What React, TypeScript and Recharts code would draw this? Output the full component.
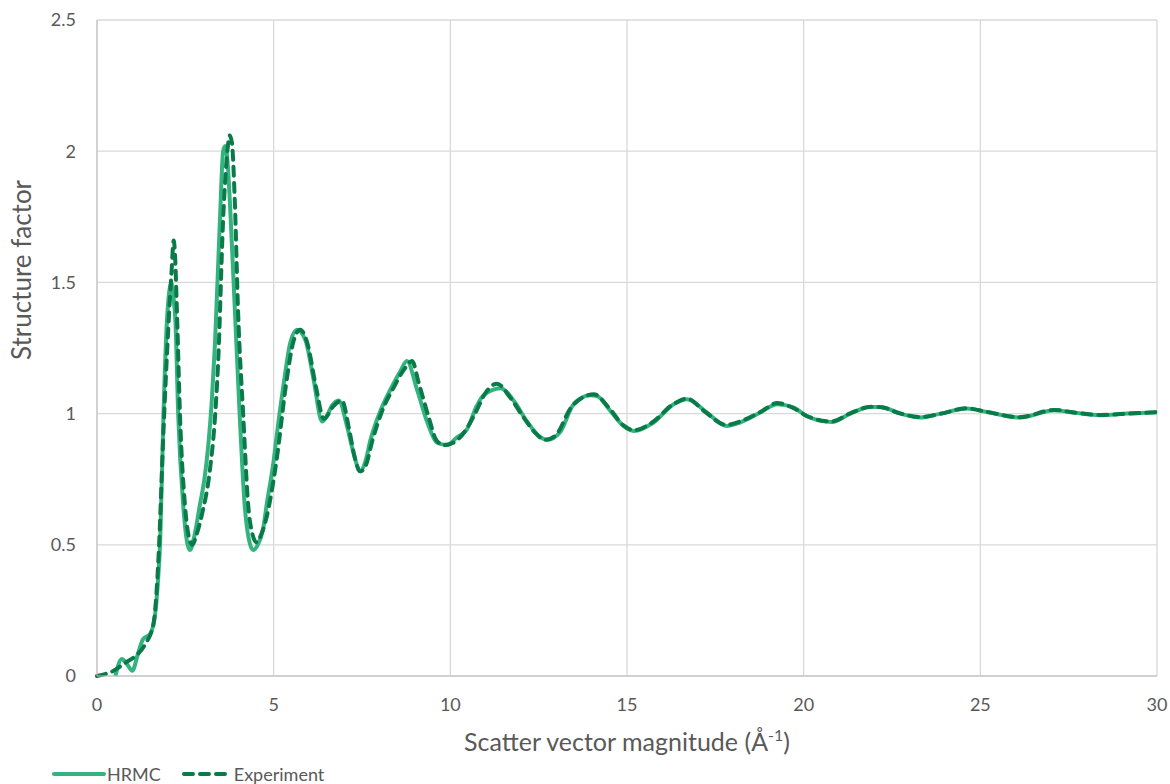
import { LineChart, Line, XAxis, YAxis, CartesianGrid } from 'recharts';

// [q, S(q)] pairs
const hrmcPoints: [number, number][] = [
  [0.52, 0.0], [0.7, 0.065], [0.85, 0.045], [1.0, 0.02], [1.15, 0.08], [1.3, 0.14],
  [1.5, 0.16], [1.64, 0.23], [1.72, 0.35], [1.79, 0.52], [1.88, 0.99], [1.97, 1.33],
  [2.05, 1.47], [2.1, 1.5], [2.16, 1.45], [2.22, 1.35], [2.3, 0.99], [2.44, 0.65],
  [2.55, 0.51], [2.63, 0.48], [2.75, 0.53], [2.91, 0.65], [3.05, 0.76], [3.15, 0.88],
  [3.25, 1.05], [3.34, 1.27], [3.48, 1.74], [3.57, 2.0], [3.63, 2.02], [3.7, 1.95],
  [3.76, 1.81], [3.9, 1.4], [4.04, 0.99], [4.18, 0.65], [4.3, 0.52], [4.42, 0.48],
  [4.55, 0.5], [4.7, 0.56], [4.81, 0.66], [5.0, 0.82], [5.09, 0.92], [5.28, 1.11],
  [5.47, 1.27], [5.66, 1.32], [5.9, 1.28], [6.13, 1.13], [6.37, 0.97], [6.5, 0.99],
  [6.65, 1.03], [6.84, 1.05], [7.08, 0.95], [7.26, 0.85], [7.45, 0.78], [7.6, 0.82],
  [7.74, 0.9], [8.02, 1.01], [8.3, 1.09], [8.58, 1.16], [8.77, 1.2], [9.06, 1.09],
  [9.34, 0.97], [9.62, 0.89], [9.91, 0.88], [10.19, 0.91], [10.47, 0.94], [10.75, 1.03],
  [10.94, 1.07], [11.42, 1.097], [11.79, 1.05], [12.17, 0.97], [12.55, 0.91], [12.74, 0.9],
  [13.11, 0.93], [13.49, 1.036], [13.96, 1.07], [14.15, 1.067], [14.53, 1.01], [14.9, 0.953],
  [15.19, 0.934], [15.75, 0.966], [16.32, 1.036], [16.7, 1.055], [17.26, 1.004], [17.83, 0.953],
  [18.2, 0.966], [18.77, 1.004], [19.25, 1.036], [19.72, 1.023], [20.1, 0.99], [20.8, 0.968],
  [21.32, 1.0], [21.89, 1.025], [22.17, 1.025], [22.74, 1.0], [23.3, 0.985], [23.87, 1.0],
  [24.62, 1.019], [25.19, 1.006], [26.13, 0.985], [27.08, 1.013], [27.64, 1.004], [28.4, 0.994],
  [29.15, 1.0], [30, 1.004],
];

const experimentPoints: [number, number][] = [
  [0, 0], [0.47, 0.02], [0.8, 0.05], [1.08, 0.075], [1.36, 0.12], [1.6, 0.2],
  [1.74, 0.45], [1.88, 0.93], [2.02, 1.33], [2.11, 1.54], [2.17, 1.66], [2.21, 1.6],
  [2.26, 1.4], [2.35, 0.99], [2.49, 0.65], [2.6, 0.53], [2.7, 0.5], [2.82, 0.54],
  [2.96, 0.61], [3.2, 0.79], [3.32, 0.95], [3.43, 1.2], [3.57, 1.74], [3.67, 1.97],
  [3.76, 2.06], [3.82, 2.03], [3.9, 1.81], [3.99, 1.4], [4.14, 0.99], [4.28, 0.65],
  [4.4, 0.54], [4.51, 0.51], [4.65, 0.54], [4.79, 0.6], [5.08, 0.82], [5.36, 1.12],
  [5.55, 1.27], [5.75, 1.32], [5.95, 1.27], [6.2, 1.1], [6.42, 0.98], [6.7, 1.03],
  [6.93, 1.05], [7.15, 0.93], [7.3, 0.83], [7.45, 0.78], [7.6, 0.8], [7.8, 0.9],
  [8.1, 1.02], [8.4, 1.1], [8.7, 1.17], [8.92, 1.2], [9.1, 1.12], [9.4, 0.98],
  [9.6, 0.9], [9.81, 0.88], [10.1, 0.89], [10.4, 0.93], [10.7, 1.0], [11.0, 1.08],
  [11.32, 1.114], [11.7, 1.06], [12.1, 0.98], [12.45, 0.92], [12.69, 0.9], [13.0, 0.92],
  [13.4, 1.02], [13.8, 1.065], [14.06, 1.074], [14.5, 1.02], [14.9, 0.955], [15.2, 0.937],
  [15.7, 0.965], [16.3, 1.035], [16.7, 1.057], [17.2, 1.008], [17.8, 0.957], [18.2, 0.97],
  [18.8, 1.008], [19.25, 1.04], [19.7, 1.022], [20.1, 0.99], [20.8, 0.97], [21.3, 1.0],
  [21.9, 1.026], [22.2, 1.024], [22.7, 1.002], [23.3, 0.987], [23.9, 1.0], [24.6, 1.02],
  [25.2, 1.006], [26.1, 0.986], [27.1, 1.014], [27.6, 1.005], [28.4, 0.995], [29.2, 1.0],
  [30, 1.006],
];

const xTicks = [0, 5, 10, 15, 20, 25, 30];
const yTicks = [0, 0.5, 1, 1.5, 2, 2.5];

const HRMC_COLOR = '#33b37f';
const EXP_COLOR = '#0a7a48';
const FONT = 'Lato, "Open Sans", sans-serif';
const TEXT = '#595959';

const toRows = (pts: [number, number][]) => pts.map(([q, s]) => ({ q, s }));

export default function App() {
  return (
    <div style={{ position: 'absolute', left: 0, top: 0, width: 1170, height: 784, background: '#fff', fontFamily: FONT }}>
      <LineChart width={1170} height={784} margin={{ top: 20, right: 13, left: 17, bottom: 78 }}>
        <CartesianGrid stroke="#d9d9d9" strokeWidth={1.3} />
        <XAxis
          type="number"
          dataKey="q"
          domain={[0, 30]}
          ticks={xTicks}
          allowDuplicatedCategory={false}
          height={30}
          stroke="#bfbfbf"
          tickLine={false}
          tick={{ fill: TEXT, fontSize: 18, fontFamily: FONT }}
          tickMargin={16}
          label={{
            content: () => (
              <text x={627} y={751} textAnchor="middle" fill={TEXT} fontSize={25} fontFamily={FONT}>
                Scatter vector magnitude (Å
                <tspan dy={-10} fontSize={16}>-1</tspan>
                <tspan dy={10}>)</tspan>
              </text>
            ),
          }}
        />
        <YAxis
          type="number"
          domain={[0, 2.5]}
          ticks={yTicks}
          width={80}
          stroke="#bfbfbf"
          tickLine={false}
          tick={{ fill: TEXT, fontSize: 18, fontFamily: FONT }}
          tickMargin={15}
          label={{
            content: () => (
              <text
                x={31}
                y={270}
                textAnchor="middle"
                transform="rotate(-90 31 270)"
                fill={TEXT}
                fontSize={26}
                fontFamily={FONT}
              >
                Structure factor
              </text>
            ),
          }}
        />
        <Line
          data={toRows(hrmcPoints)}
          dataKey="s"
          type="monotone"
          stroke={HRMC_COLOR}
          strokeWidth={4}
          dot={false}
          activeDot={false}
          isAnimationActive={false}
        />
        <Line
          data={toRows(experimentPoints)}
          dataKey="s"
          type="monotone"
          stroke={EXP_COLOR}
          strokeWidth={4}
          strokeDasharray="9 7"
          strokeLinecap="round"
          dot={false}
          activeDot={false}
          isAnimationActive={false}
        />
      </LineChart>

      {/* legend, bottom left */}
      <div style={{ position: 'absolute', left: 52, top: 764, display: 'flex', alignItems: 'center', fontSize: 18, lineHeight: '20px', color: TEXT }}>
        <svg width={54} height={10}>
          <line x1={2} y1={5} x2={52} y2={5} stroke={HRMC_COLOR} strokeWidth={4} strokeLinecap="round" />
        </svg>
        <span style={{ marginLeft: 1, marginRight: 20 }}>HRMC</span>
        <svg width={52} height={10}>
          <line x1={3} y1={5} x2={50} y2={5} stroke={EXP_COLOR} strokeWidth={4} strokeDasharray="9 7" strokeLinecap="round" />
        </svg>
        <span style={{ marginLeft: 1 }}>Experiment</span>
      </div>
    </div>
  );
}
